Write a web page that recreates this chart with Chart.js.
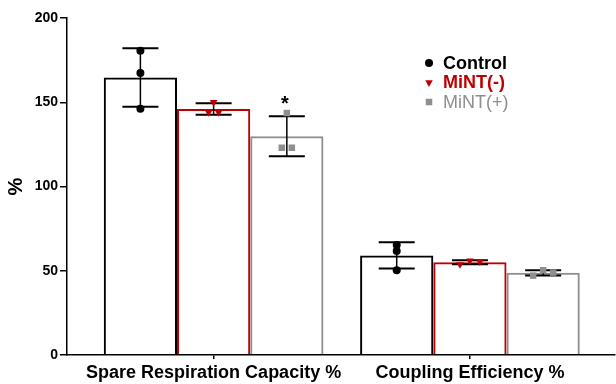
<!DOCTYPE html>
<html>
<head>
<meta charset="utf-8">
<script src="https://cdn.jsdelivr.net/npm/chart.js@4/dist/chart.umd.min.js"></script>
<style>
  html, body { margin: 0; background: #fff; }
  #wrap { width: 616px; height: 384px; }
</style>
</head>
<body>
<div id="wrap"><canvas id="chart" width="616" height="384"></canvas></div>
<script>
// Data (three replicates per group)
const CATEGORIES = ['Spare Respiration Capacity %', 'Coupling Efficiency %'];
const GROUPS = ['Control', 'MiNT(-)', 'MiNT(+)'];
const CONTROL_REPS = [[180.6, 167.4, 146.2], [65.3, 61.7, 50.3]];
const MINT_NEG_REPS = [[150.0, 144.0, 144.0], [53.8, 56.0, 55.4]];
const MINT_POS_REPS = [[143.6, 123.0, 123.0], [47.1, 50.3, 48.9]];
const SIGNIF_MARKS = [['', '', '*'], ['', '', '']];
const Y_TICKS = [0, 50, 100, 150, 200];

const REPS = [CONTROL_REPS, MINT_NEG_REPS, MINT_POS_REPS];
const COLORS = ['#000000', '#C00000', '#8F8F8F'];
const MARKERS = [
  { pointStyle: 'circle', rotation: 0, radius: 4 },
  { pointStyle: 'triangle', rotation: 180, radius: 4.4 },
  { pointStyle: 'rect', rotation: 0, radius: 4.6 },
];
const FONT = '"Liberation Sans", Arial, sans-serif';

function mean(arr) {
  return arr.reduce((a, b) => a + b, 0) / arr.length;
}

function sd(arr) {
  const m = mean(arr);
  return Math.sqrt(arr.reduce((a, b) => a + (b - m) * (b - m), 0) / (arr.length - 1));
}

// spread points that would sit on top of each other
function jitterOffsets(pixYs, gap, step) {
  const order = pixYs.map((_, i) => i).sort((a, b) => pixYs[a] - pixYs[b]);
  const clusters = [];
  let cur = [order[0]];
  for (let k = 1; k < order.length; k++) {
    if (pixYs[order[k]] - pixYs[order[k - 1]] < gap) cur.push(order[k]);
    else { clusters.push(cur); cur = [order[k]]; }
  }
  clusters.push(cur);
  const offs = new Array(pixYs.length).fill(0);
  clusters.forEach((c) => {
    c.sort((a, b) => a - b);
    c.forEach((idx, k) => { offs[idx] = (k - (c.length - 1) / 2) * step; });
  });
  return offs;
}

function drawMarker(ctx, i, x, y) {
  ctx.save();
  ctx.fillStyle = COLORS[i];
  Chart.helpers.drawPoint(ctx, { ...MARKERS[i], borderWidth: 0 }, x, y);
  ctx.restore();
}

const errorBarPlugin = {
  id: 'errorBars',
  afterDatasetsDraw(chart) {
    const ctx = chart.ctx;
    const yScale = chart.scales.y;
    GROUPS.forEach((g, i) => {
      const meta = chart.getDatasetMeta(i);
      meta.data.forEach((bar, j) => {
        const reps = REPS[i][j];
        const m = mean(reps);
        const s = sd(reps);
        const x = bar.x;
        const yTop = yScale.getPixelForValue(m + s);
        const yBot = yScale.getPixelForValue(m - s);
        ctx.save();
        ctx.strokeStyle = '#000';
        ctx.lineWidth = 1.5;
        ctx.beginPath();
        ctx.moveTo(x, yTop);
        ctx.lineTo(x, yBot);
        ctx.stroke();
        ctx.lineWidth = 2;
        ctx.beginPath();
        ctx.moveTo(x - 18, yTop);
        ctx.lineTo(x + 18, yTop);
        ctx.moveTo(x - 18, yBot);
        ctx.lineTo(x + 18, yBot);
        ctx.stroke();
        if (SIGNIF_MARKS[j][i]) {
          ctx.fillStyle = '#000';
          ctx.font = 'bold 20px ' + FONT;
          ctx.textAlign = 'center';
          ctx.textBaseline = 'alphabetic';
          ctx.fillText(SIGNIF_MARKS[j][i], x - 2, yTop - 6);
        }
        ctx.restore();

        const pixYs = reps.map((v) => yScale.getPixelForValue(v));
        const offs = jitterOffsets(pixYs, 5.5, 10);
        pixYs.forEach((py, k) => drawMarker(ctx, i, x + offs[k], py));
      });
    });
  },
};

const legendPlugin = {
  id: 'groupLegend',
  afterDraw(chart) {
    const ctx = chart.ctx;
    const area = chart.chartArea;
    const x0 = area.left + 362;
    const y0 = area.top + 45;
    const rowH = 19.5;
    GROUPS.forEach((g, i) => {
      const y = y0 + i * rowH;
      drawMarker(ctx, i, x0, y);
      ctx.save();
      ctx.fillStyle = COLORS[i];
      ctx.font = (i < 2 ? 'bold ' : '') + '18px ' + FONT;
      ctx.textAlign = 'left';
      ctx.textBaseline = 'middle';
      ctx.fillText(g, x0 + 14, y + 1);
      ctx.restore();
    });
  },
};

const datasets = GROUPS.map((g, i) => ({
  label: g,
  data: CATEGORIES.map((c, j) => ({ x: j, y: mean(REPS[i][j]) })),
  backgroundColor: 'rgba(255,255,255,0)',
  borderColor: COLORS[i],
  borderWidth: 2,
  categoryPercentage: 0.857,
  barPercentage: 1,
}));

new Chart(document.getElementById('chart'), {
  type: 'bar',
  data: { datasets },
  plugins: [errorBarPlugin, legendPlugin],
  options: {
    responsive: false,
    animation: false,
    layout: { padding: { top: 18, right: 1, left: 0, bottom: 0 } },
    plugins: { legend: { display: false }, tooltip: { enabled: false } },
    scales: {
      x: {
        type: 'linear',
        min: -0.572,
        max: 1.566,
        offset: false,
        afterBuildTicks: (scale) => { scale.ticks = CATEGORIES.map((c, i) => ({ value: i })); },
        afterFit: (scale) => { scale.height = 29; },
        ticks: {
          callback: (v) => CATEGORIES[v],
          font: { family: FONT, size: 18, weight: 'bold' },
          color: '#000',
          padding: 3,
          maxRotation: 0,
          autoSkip: false,
        },
        grid: { offset: false, drawOnChartArea: false, drawTicks: true, tickLength: 4, color: '#000', lineWidth: 1.5 },
        border: { color: '#000', width: 1.5 },
      },
      y: {
        min: 0,
        max: 200,
        afterBuildTicks: (scale) => { scale.ticks = Y_TICKS.map((v) => ({ value: v })); },
        afterFit: (scale) => { scale.width = 67; },
        ticks: {
          font: { family: FONT, size: 14, weight: 'bold' },
          color: '#000',
          padding: 2,
        },
        grid: { drawOnChartArea: false, drawTicks: true, tickLength: 7, color: '#000', lineWidth: 1.5 },
        border: { color: '#000', width: 1.5 },
        title: {
          display: true,
          text: '%',
          color: '#000',
          font: { family: FONT, size: 20, weight: 'bold' },
          padding: { top: 4, bottom: 0 },
        },
      },
    },
  },
});
</script>
</body>
</html>
